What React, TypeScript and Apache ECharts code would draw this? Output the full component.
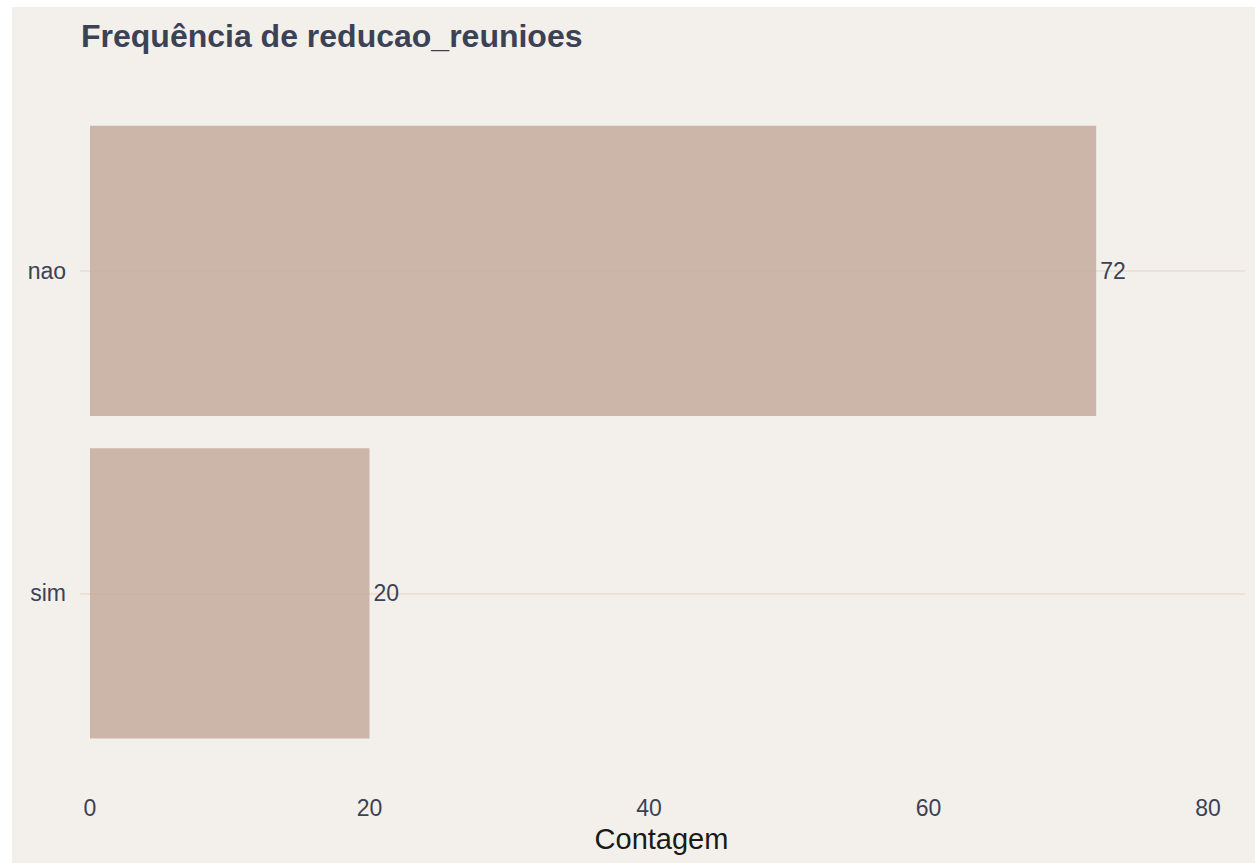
import React, { useEffect, useRef } from "react";
import * as echarts from "echarts";

const categories = ["sim", "nao"];
const counts = [20, 72];
const xTicks = [0, 20, 40, 60, 80];
const titleText = "Frequência de reducao_reunioes";
const xName = "Contagem";

export default function App() {
  const ref = useRef<HTMLDivElement>(null);
  useEffect(() => {
    if (!ref.current) return;
    const chart = echarts.init(ref.current, null, { renderer: "svg" });
    const font = "Liberation Sans, Arial, Helvetica, sans-serif";
    const textColor = "#3b4256";
    chart.setOption({
      animation: false,
      backgroundColor: "#f3f0eb",
      title: {
        text: titleText,
        left: 64,
        top: 8,
        textStyle: { fontFamily: font, fontSize: 32, fontWeight: "bold", color: textColor },
      },
      grid: { left: 78, right: 10, top: 102.5, height: 645, containLabel: false },
      xAxis: {
        type: "value",
        min: 0,
        max: 82.65,
        interval: 20,
        axisLine: { show: false },
        axisTick: { show: false },
        splitLine: { show: false },
        axisLabel: {
          showMaxLabel: false,
          margin: 42,
          fontFamily: font,
          fontSize: 23,
          color: textColor,
          formatter: (v: number) => (xTicks.includes(v) ? String(v) : ""),
        },
        name: xName,
        nameLocation: "middle",
        nameGap: 70,
        nameTextStyle: { fontFamily: font, fontSize: 29, color: "#1a1a1a", padding: [0, 12, 0, 0] },
      },
      yAxis: {
        type: "category",
        data: categories,
        axisLine: { show: false },
        axisTick: { show: true, alignWithLabel: true, length: 10, lineStyle: { color: "#ebe1d7", width: 2 } },
        splitLine: { show: false },
        axisLabel: { margin: 24, fontFamily: font, fontSize: 23, color: textColor },
      },
      series: [
        {
          type: "bar",
          data: counts,
          barCategoryGap: "10%",
          itemStyle: { color: "rgba(196,171,157,0.85)" },
          label: {
            show: true,
            position: "right",
            distance: 4,
            fontFamily: font,
            fontSize: 23,
            color: textColor,
          },
          markLine: {
            silent: true,
            symbol: "none",
            label: { show: false },
            lineStyle: { color: "#ebe1d7", width: 2, type: "solid" },
            data: categories.map((c) => ({ yAxis: c })),
            z: 1,
          },
          z: 2,
        },
      ],
    });
    return () => chart.dispose();
  }, []);
  return (
    <div
      ref={ref}
      style={{ position: "absolute", left: 12, top: 7, width: 1243, height: 856 }}
    />
  );
}
